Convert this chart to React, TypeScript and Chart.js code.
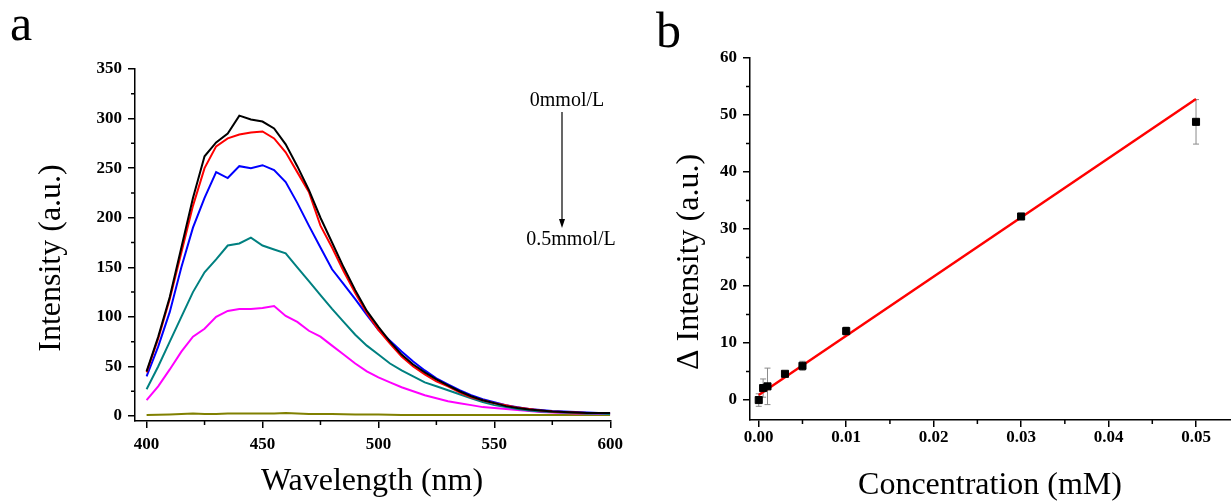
import React, { useEffect, useRef } from 'react';
import { Chart, registerables } from 'chart.js';

Chart.register(...registerables);

const FONT = '"Liberation Serif", "Times New Roman", serif';

// ---------- Panel a: emission spectra ----------
const wavelengths = [
  400, 405, 410, 415, 420, 425, 430, 435, 440, 445, 450, 455, 460, 465, 470, 475, 480, 485, 490, 495,
  500, 505, 510, 515, 520, 525, 530, 535, 540, 545, 550, 555, 560, 565, 570, 575, 580, 585, 590, 595, 600,
];
const spec0 = [
  45, 80, 120, 170, 220, 262, 276, 285, 303, 299, 297, 290, 274, 252, 228, 200, 175, 150, 127, 106,
  90, 75, 62, 52, 44, 37, 31, 25, 20, 16, 13, 10, 8, 6.5, 5.5, 4.5, 4, 3.5, 3, 3, 3,
];
const spec1 = [
  44, 78, 118, 165, 212, 250, 272, 280, 284, 286, 287, 280, 266, 246, 226, 192, 170, 146, 124, 104,
  87, 73, 60, 50, 42, 35, 30, 24, 19, 16, 13, 11, 8.5, 7, 5.5, 4.5, 4, 3.5, 3, 3, 3,
];
const spec2 = [
  40, 70, 105, 150, 190, 220, 246, 240, 252, 250, 253, 248, 236, 215, 192, 170, 148, 133, 118, 102,
  87, 76, 65, 55, 46, 38, 32, 26, 21, 17, 14, 11, 9, 7, 6, 5, 4.5, 4, 3.5, 3, 3,
];
const spec3 = [
  27, 50, 75, 100, 125, 145, 158, 172, 174, 180, 172, 168, 164, 150, 136, 122, 108, 95, 82, 71,
  62, 53, 46, 40, 34, 30, 26, 22, 18, 14, 11, 9, 7, 5.5, 4.5, 4, 3.5, 3, 2.5, 2.5, 2,
];
const spec4 = [
  16, 30, 47, 65, 80, 88, 100, 106, 108, 108, 109, 111, 101, 95, 86, 80, 71, 62, 53, 45,
  39, 34, 29, 25, 21, 18, 15, 13, 11, 9, 8, 7, 6, 5, 4, 3.5, 3, 2.5, 2.5, 2, 2,
];
const spec5 = [
  1, 1.2, 1.5, 2, 2.5, 2, 2, 2.5, 2.5, 2.5, 2.5, 2.5, 3, 2.5, 2, 2, 2, 1.8, 1.5, 1.5,
  1.5, 1.2, 1, 1, 1, 1, 1, 1, 1, 1, 1, 1, 1, 1, 1, 1, 1, 1, 1, 1, 1,
];
const spectra = [spec0, spec1, spec2, spec3, spec4, spec5];
const specLabels = ['0', 's1', 's2', 's3', 's4', '0.5 mmol/L'];
const specColors = ['#000000', '#ff0000', '#0000ff', '#008080', '#ff00ff', '#808000'];

const leftXTicks = [400, 450, 500, 550, 600];
const leftXMinor = [425, 475, 525, 575];
const leftYTicks = [0, 50, 100, 150, 200, 250, 300, 350];
const leftYMinor = [25, 75, 125, 175, 225, 275, 325];

// ---------- Panel b: calibration ----------
const concX = [0, 0.0005, 0.001, 0.003, 0.005, 0.01, 0.03, 0.05];
const deltaY = [0, 2.1, 2.4, 4.6, 6.0, 12.1, 32.2, 48.8];
const deltaErr = [1.1, 1.6, 3.2, 0.4, 0.8, 0.7, 0.4, 3.9];
const fitX = [0, 0.05];
const fitY = [0.9, 52.8];

const rightXTicks = [0, 0.01, 0.02, 0.03, 0.04, 0.05];
const rightXMinor = [0.005, 0.015, 0.025, 0.035, 0.045];
const rightYTicks = [0, 10, 20, 30, 40, 50, 60];
const rightYMinor = [5, 15, 25, 35, 45, 55];

function axisCommon(tickVals: number[], padding: number, fmt?: (v: number) => string) {
  return {
    type: 'linear' as const,
    afterBuildTicks: (s: any) => {
      s.ticks = tickVals.map((v) => ({ value: v }));
    },
    grid: {
      display: true,
      drawOnChartArea: false,
      drawTicks: true,
      tickLength: 7,
      tickColor: '#000',
      lineWidth: 1.5,
      color: '#000',
    },
    border: { display: true, color: '#000', width: 1.5 },
    ticks: {
      color: '#000',
      padding,
      autoSkip: false,
      maxRotation: 0,
      font: { family: FONT, size: 17, weight: 'bold' as const },
      callback: fmt ? (v: any) => fmt(Number(v)) : (v: any) => String(v),
    },
  };
}

function minorTicks(chart: any, xMinor: number[], yMinor: number[]) {
  const { ctx, chartArea, scales } = chart;
  ctx.save();
  ctx.strokeStyle = '#000';
  ctx.lineWidth = 1.5;
  ctx.beginPath();
  yMinor.forEach((v) => {
    const y = scales.y.getPixelForValue(v);
    ctx.moveTo(chartArea.left, y);
    ctx.lineTo(chartArea.left - 4, y);
  });
  xMinor.forEach((v) => {
    const x = scales.x.getPixelForValue(v);
    ctx.moveTo(x, chartArea.bottom);
    ctx.lineTo(x, chartArea.bottom + 4);
  });
  ctx.stroke();
  ctx.restore();
}

function drawText(ctx: any, text: string, x: number, y: number, size: number, rot = 0, align = 'center', baseline = 'middle') {
  ctx.save();
  ctx.translate(x, y);
  if (rot) ctx.rotate(rot);
  ctx.font = `${size}px ${FONT}`;
  ctx.fillStyle = '#000';
  ctx.textAlign = align;
  ctx.textBaseline = baseline;
  ctx.fillText(text, 0, 0);
  ctx.restore();
}

const leftDecor = {
  id: 'leftDecor',
  afterDraw(chart: any) {
    const { ctx } = chart;
    minorTicks(chart, leftXMinor, leftYMinor);
    drawText(ctx, 'a', 10, 40, 50, 0, 'left', 'alphabetic');
    drawText(ctx, 'Intensity (a.u.)', 52, 258, 32, -Math.PI / 2);
    drawText(ctx, 'Wavelength (nm)', 372, 482, 32);
    drawText(ctx, '0mmol/L', 567, 101, 20);
    drawText(ctx, '0.5mmol/L', 571, 240, 20);
    ctx.save();
    ctx.strokeStyle = '#000';
    ctx.fillStyle = '#000';
    ctx.lineWidth = 1.2;
    ctx.beginPath();
    ctx.moveTo(562, 112);
    ctx.lineTo(562, 221);
    ctx.stroke();
    ctx.beginPath();
    ctx.moveTo(559, 219);
    ctx.lineTo(565, 219);
    ctx.lineTo(562, 228);
    ctx.closePath();
    ctx.fill();
    ctx.restore();
  },
};

const rightDecor = {
  id: 'rightDecor',
  beforeDatasetsDraw(chart: any) {
    const { ctx, scales } = chart;
    ctx.save();
    ctx.strokeStyle = '#8a8a8a';
    ctx.lineWidth = 1;
    ctx.beginPath();
    concX.forEach((cx, i) => {
      const x = scales.x.getPixelForValue(cx);
      const y1 = scales.y.getPixelForValue(deltaY[i] + deltaErr[i]);
      const y2 = scales.y.getPixelForValue(deltaY[i] - deltaErr[i]);
      ctx.moveTo(x, y1);
      ctx.lineTo(x, y2);
      ctx.moveTo(x - 3, y1);
      ctx.lineTo(x + 3, y1);
      ctx.moveTo(x - 3, y2);
      ctx.lineTo(x + 3, y2);
    });
    ctx.stroke();
    ctx.restore();
  },
  afterDraw(chart: any) {
    const { ctx } = chart;
    minorTicks(chart, rightXMinor, rightYMinor);
    drawText(ctx, 'b', 36, 47, 50, 0, 'left', 'alphabetic');
    drawText(ctx, '\u0394 Intensity (a.u.)', 70, 262, 32, -Math.PI / 2);
    drawText(ctx, 'Concentration (mM)', 370, 486, 32);
  },
};

function LeftChart() {
  const ref = useRef<HTMLCanvasElement>(null);
  useEffect(() => {
    const chart = new Chart(ref.current as HTMLCanvasElement, {
      type: 'line',
      data: {
        datasets: spectra.map((arr, i) => ({
          label: specLabels[i],
          data: wavelengths.map((w, j) => ({ x: w, y: arr[j] })),
          borderColor: specColors[i],
          backgroundColor: specColors[i],
          borderWidth: 2,
          pointRadius: 0,
          fill: false,
          tension: 0,
        })),
      },
      options: {
        responsive: false,
        animation: false,
        layout: { padding: { left: 0, right: 3, top: 69, bottom: 0 } },
        plugins: { legend: { display: false }, tooltip: { enabled: false } },
        scales: {
          x: {
            ...axisCommon(leftXTicks, 6),
            min: 395,
            max: 600,
            afterFit: (s: any) => {
              s.height = 80;
            },
          },
          y: {
            ...axisCommon(leftYTicks, 6),
            min: -5,
            max: 350,
            afterFit: (s: any) => {
              s.width = 135;
            },
          },
        },
      } as any,
      plugins: [leftDecor as any],
    });
    return () => chart.destroy();
  }, []);
  return <canvas ref={ref} width={629} height={501} />;
}

function RightChart() {
  const ref = useRef<HTMLCanvasElement>(null);
  useEffect(() => {
    const chart = new Chart(ref.current as HTMLCanvasElement, {
      type: 'scatter',
      data: {
        datasets: [
          {
            label: 'Δ Intensity',
            data: concX.map((x, i) => ({ x, y: deltaY[i] })),
            pointStyle: 'rect',
            pointRadius: 5,
            backgroundColor: '#000',
            borderColor: '#000',
            showLine: false,
          },
          {
            type: 'line',
            label: 'Linear fit',
            data: fitX.map((x, i) => ({ x, y: fitY[i] })),
            borderColor: '#ff0000',
            borderWidth: 2.5,
            pointRadius: 0,
            fill: false,
          },
        ],
      } as any,
      options: {
        responsive: false,
        animation: false,
        layout: { padding: { left: 0, right: 0, top: 58, bottom: 0 } },
        plugins: { legend: { display: false }, tooltip: { enabled: false } },
        scales: {
          x: {
            ...axisCommon(rightXTicks, 0, (v) => v.toFixed(2)),
            min: -0.001,
            max: 0.054,
            afterFit: (s: any) => {
              s.height = 81;
            },
          },
          y: {
            ...axisCommon(rightYTicks, 6),
            min: -3.5,
            max: 60,
            afterFit: (s: any) => {
              s.width = 130;
            },
          },
        },
      } as any,
      plugins: [rightDecor as any],
    });
    return () => chart.destroy();
  }, []);
  return <canvas ref={ref} width={617} height={501} />;
}

export default function App() {
  return (
    <div style={{ position: 'fixed', left: 0, top: 0, width: 1231, height: 501, background: '#fff', overflow: 'hidden' }}>
      <div style={{ position: 'absolute', left: 0, top: 0, width: 629, height: 501 }}>
        <LeftChart />
      </div>
      <div style={{ position: 'absolute', left: 620, top: 0, width: 611, height: 501, overflow: 'hidden' }}>
        <RightChart />
      </div>
    </div>
  );
}
